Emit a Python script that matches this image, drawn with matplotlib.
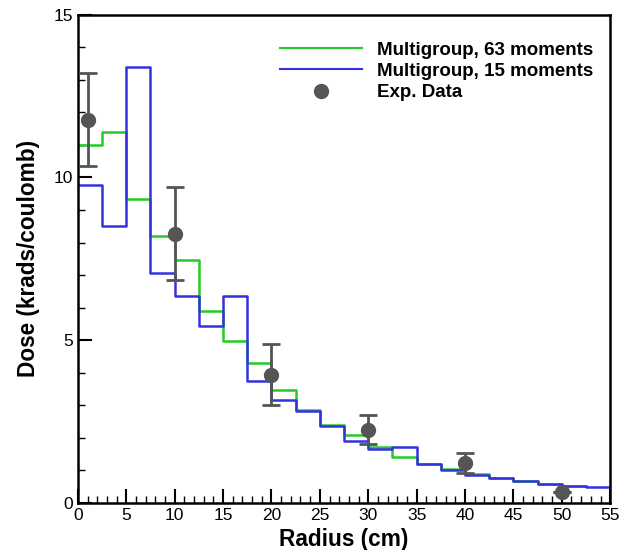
import numpy as np
import matplotlib
matplotlib.use("Agg")
import matplotlib.pyplot as plt
from matplotlib.ticker import MultipleLocator

# bin edges (cm) shared by both multigroup runs
edges = np.arange(0, 55.01, 2.5)

# dose per bin, multigroup 63 moments (last bin empty)
dose_63 = [11.0, 11.4, 9.35, 8.2, 7.45, 5.9, 4.96, 4.3, 3.46, 2.86, 2.4, 2.07,
           1.70, 1.42, 1.19, 1.03, 0.89, 0.77, 0.67, 0.57, 0.52]
# dose per bin, multigroup 15 moments
dose_15 = [9.76, 8.5, 13.4, 7.07, 6.36, 5.42, 6.35, 3.73, 3.17, 2.81, 2.35, 1.89,
           1.65, 1.71, 1.19, 1.02, 0.85, 0.77, 0.67, 0.57, 0.52, 0.47]

# experimental points
exp_r = [1, 10, 20, 30, 40, 50]
exp_dose = [11.76, 8.27, 3.94, 2.25, 1.22, 0.32]
exp_lo = [10.35, 6.86, 2.99, 1.79, 0.91, 0.32]
exp_hi = [13.2, 9.71, 4.88, 2.71, 1.53, 0.32]


def stairs_xy(edges, vals):
    x = np.repeat(edges[:len(vals) + 1], 2)[1:-1]
    y = np.repeat(vals, 2)
    return x, y


plt.rcParams['font.family'] = ['Liberation Sans', 'DejaVu Sans']

fig = plt.figure(figsize=(6.33, 5.5), dpi=100)
ax = fig.add_axes([0.123, 0.086, 0.841, 0.887])

x, y = stairs_xy(edges, dose_63)
ax.plot(x, y, color='#22cc22', lw=1.8, label='Multigroup, 63 moments')
x, y = stairs_xy(edges, dose_15)
ax.plot(x, y, color='#3333dd', lw=1.8, label='Multigroup, 15 moments')

yerr = [np.array(exp_dose) - np.array(exp_lo), np.array(exp_hi) - np.array(exp_dose)]
ax.errorbar(exp_r, exp_dose, yerr=yerr, fmt='none', ecolor='#555555',
            elinewidth=2, capsize=6.5, capthick=2, zorder=4)
ax.plot(exp_r, exp_dose, 'o', color='#555555', ms=10, ls='none',
        label='Exp. Data', zorder=5)

ax.set_xlim(0, 55)
ax.set_ylim(0, 15)
ax.xaxis.set_major_locator(MultipleLocator(5))
ax.xaxis.set_minor_locator(MultipleLocator(1))
ax.yaxis.set_major_locator(MultipleLocator(5))
ax.yaxis.set_minor_locator(MultipleLocator(1))
ax.tick_params(which='both', direction='in', top=False, right=False, labelsize=12.5)
ax.tick_params(which='major', length=10, width=1.5)
ax.tick_params(which='minor', length=5, width=1)
for s in ax.spines.values():
    s.set_linewidth(1.8)

ax.set_xlabel('Radius (cm)', fontsize=16.3, fontweight='bold', labelpad=4)
ax.set_ylabel('Dose (krads/coulomb)', fontsize=16.3, fontweight='bold', labelpad=10)

leg = ax.legend(loc='upper right', frameon=False, prop={'weight': 'bold', 'size': 13.5},
                handlelength=4.4, handletextpad=0.8, labelspacing=0.22,
                bbox_to_anchor=(1.0, 0.98))
for h in leg.legend_handles[:2]:
    h.set_linewidth(1.5)

fig.savefig('out.png', dpi=100)
